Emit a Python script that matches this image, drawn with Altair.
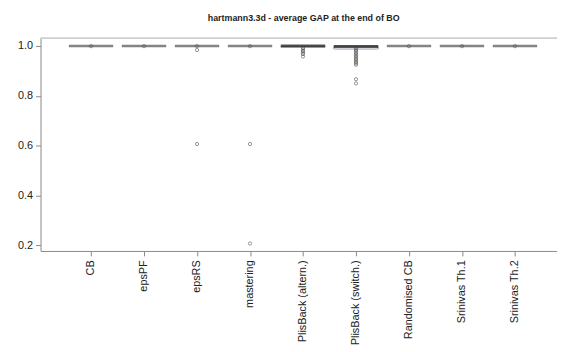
import altair as alt
import pandas as pd

categories = ["CB", "epsPF", "epsRS", "mastering", "PlisBack (altern.)",
              "PlisBack (switch.)", "Randomised CB", "Srinivas Th.1", "Srinivas Th.2"]
q1 = [1.0, 1.0, 1.0, 1.0, 0.997, 0.988, 1.0, 1.0, 1.0]
medians = [1.0, 1.0, 1.0, 1.0, 1.0, 0.998, 1.0, 1.0, 1.0]
q3 = [1.0, 1.0, 1.0, 1.0, 1.0, 0.999, 1.0, 1.0, 1.0]

out_cb = [0.9995]
out_epspf = [0.9995]
out_epsrs = [0.9995, 0.984, 0.607]
out_mastering = [0.9995, 0.607, 0.208]
out_altern = [0.992, 0.986, 0.980, 0.974, 0.968, 0.958]
out_switch = [0.991, 0.985, 0.979, 0.973, 0.967, 0.961, 0.955, 0.949,
              0.943, 0.937, 0.931, 0.925, 0.867, 0.850]
out_randomised = [0.9995]
out_th1 = [0.9995]
out_th2 = [0.9995]

outlier_lists = [out_cb, out_epspf, out_epsrs, out_mastering, out_altern,
                 out_switch, out_randomised, out_th1, out_th2]
y_domain = [0.178, 1.032]
x_domain = [0.14, 9.70]

stats = pd.DataFrame({
    "cat": categories,
    "idx": list(range(1, len(categories) + 1)),
    "q1": q1, "median": medians, "q3": q3,
})
outl = pd.DataFrame([
    {"cat": c, "idx": i + 1, "value": v}
    for i, (c, vals) in enumerate(zip(categories, outlier_lists)) for v in vals
])

label_js = "[" + ",".join("'" + c + "'" for c in categories) + "]"

xscale = alt.Scale(domain=x_domain, nice=False, zero=False)
yscale = alt.Scale(domain=y_domain, nice=False, zero=False)

xaxis = alt.Axis(values=list(range(1, 10)), labelExpr=label_js + "[datum.value-1]",
                 labelAngle=-90, labelAlign="right", labelBaseline="middle",
                 labelFontSize=11, labelColor="#222", labelPadding=4,
                 tickSize=5, tickColor="#888", domainColor="#888", grid=False,
                 title=None, labelOverlap=False)
yaxis = alt.Axis(values=[0.2, 0.4, 0.6, 0.8, 1.0], format=".1f", grid=False,
                 labelFontSize=11, labelColor="#222", labelPadding=3,
                 tickSize=5, tickColor="#888", domainColor="#888", title=None,
                 minExtent=33, maxExtent=33)

base = alt.Chart(stats)
is_box = "datum.q3 - datum.q1 >= 0.001"

flat_ticks = base.transform_filter("!(" + is_box + ")").mark_tick(
    orient="horizontal", size=45, thickness=2.5, color="#505050"
).encode(
    x=alt.X("idx:Q", scale=xscale, axis=xaxis),
    y=alt.Y("median:Q", scale=yscale, axis=yaxis),
)

boxes = base.transform_filter(is_box).mark_bar(
    size=45, fill="white", stroke="#9aa5b0", strokeWidth=1
).encode(
    x=alt.X("idx:Q", scale=xscale, axis=xaxis),
    y=alt.Y("q1:Q", scale=yscale, axis=yaxis),
    y2="q3:Q",
)

box_medians = base.transform_filter(is_box).mark_tick(
    orient="horizontal", size=45, thickness=3, color="#111"
).encode(
    x=alt.X("idx:Q", scale=xscale, axis=xaxis),
    y=alt.Y("median:Q", scale=yscale, axis=yaxis),
)

points = alt.Chart(outl).mark_point(
    shape="circle", size=11, filled=False, stroke="#444", strokeWidth=0.8
).encode(
    x=alt.X("idx:Q", scale=xscale, axis=xaxis),
    y=alt.Y("value:Q", scale=yscale, axis=yaxis),
)

top_line = alt.Chart(pd.DataFrame({"top": [y_domain[1]]})).mark_rule(
    color="#aaa", strokeWidth=1
).encode(y=alt.Y("top:Q", scale=yscale, axis=yaxis))

chart = alt.layer(flat_ticks, boxes, box_medians, points, top_line).properties(
    width=524, height=216,
    title=alt.TitleParams("hartmann3.3d - average GAP at the end of BO",
                          fontSize=9, fontWeight="bold", color="#222",
                          anchor="middle", dx=5, offset=15),
    autosize=alt.AutoSizeParams(type="none"),
    padding={"left": 33, "top": 28, "right": 0, "bottom": 100},
).configure(font="Liberation Sans").configure_view(stroke=None)

chart.save("out.html", embed_options={"renderer": "svg", "actions": False})
